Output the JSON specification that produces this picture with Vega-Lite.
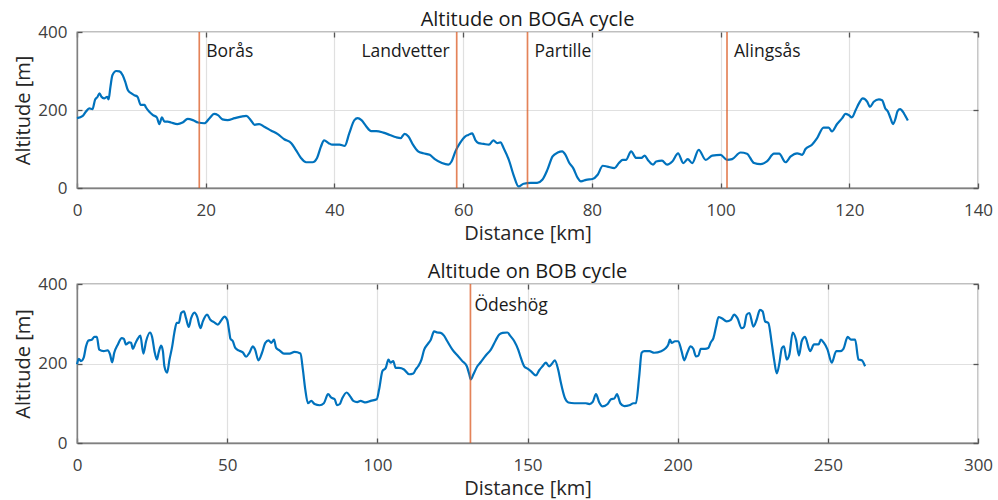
{
  "$schema": "https://vega.github.io/schema/vega-lite/v6.json",
  "background": "white",
  "padding": {"left": 13, "top": 9, "right": 5, "bottom": 2},
  "spacing": 17,
  "datasets": {
    "boga": [
      {"km": 0.0, "alt": 179}, {"km": 0.9, "alt": 185}, {"km": 1.4, "alt": 196}, {"km": 1.9, "alt": 204}, {"km": 2.4, "alt": 202},
      {"km": 2.8, "alt": 226}, {"km": 3.2, "alt": 234}, {"km": 3.5, "alt": 243}, {"km": 3.8, "alt": 234}, {"km": 4.2, "alt": 230},
      {"km": 4.7, "alt": 234}, {"km": 4.9, "alt": 227}, {"km": 5.2, "alt": 260}, {"km": 5.5, "alt": 289}, {"km": 6.1, "alt": 300},
      {"km": 6.6, "alt": 299}, {"km": 7.1, "alt": 289}, {"km": 7.5, "alt": 272}, {"km": 7.9, "alt": 251}, {"km": 8.4, "alt": 243},
      {"km": 8.9, "alt": 238}, {"km": 9.4, "alt": 234}, {"km": 9.9, "alt": 213}, {"km": 10.5, "alt": 213}, {"km": 10.7, "alt": 207},
      {"km": 11.2, "alt": 196}, {"km": 11.8, "alt": 187}, {"km": 12.4, "alt": 181}, {"km": 12.8, "alt": 164}, {"km": 13.2, "alt": 181},
      {"km": 13.6, "alt": 170}, {"km": 14.1, "alt": 170}, {"km": 14.6, "alt": 168}, {"km": 15.6, "alt": 164}, {"km": 16.4, "alt": 168},
      {"km": 17.2, "alt": 177}, {"km": 18.0, "alt": 174}, {"km": 18.8, "alt": 168}, {"km": 19.8, "alt": 166}, {"km": 20.6, "alt": 179},
      {"km": 21.3, "alt": 190}, {"km": 21.9, "alt": 187}, {"km": 22.6, "alt": 176}, {"km": 23.4, "alt": 174}, {"km": 24.5, "alt": 179},
      {"km": 25.5, "alt": 183}, {"km": 26.3, "alt": 185}, {"km": 27.0, "alt": 174}, {"km": 27.6, "alt": 162}, {"km": 28.3, "alt": 164},
      {"km": 29.1, "alt": 157}, {"km": 30.2, "alt": 147}, {"km": 31.2, "alt": 138}, {"km": 32.2, "alt": 125}, {"km": 33.3, "alt": 115},
      {"km": 34.0, "alt": 98}, {"km": 34.8, "alt": 77}, {"km": 35.6, "alt": 66}, {"km": 36.6, "alt": 66}, {"km": 37.3, "alt": 77},
      {"km": 37.9, "alt": 106}, {"km": 38.4, "alt": 122}, {"km": 39.1, "alt": 115}, {"km": 39.7, "alt": 111}, {"km": 40.8, "alt": 111},
      {"km": 41.6, "alt": 108}, {"km": 42.3, "alt": 140}, {"km": 43.1, "alt": 174}, {"km": 43.6, "alt": 179}, {"km": 44.2, "alt": 174},
      {"km": 44.9, "alt": 159}, {"km": 45.7, "alt": 146}, {"km": 46.5, "alt": 146}, {"km": 47.6, "alt": 142}, {"km": 48.6, "alt": 136},
      {"km": 49.6, "alt": 130}, {"km": 50.3, "alt": 128}, {"km": 50.9, "alt": 139}, {"km": 51.5, "alt": 132}, {"km": 52.2, "alt": 111},
      {"km": 53.0, "alt": 94}, {"km": 53.8, "alt": 89}, {"km": 54.8, "alt": 85}, {"km": 55.6, "alt": 74}, {"km": 56.7, "alt": 64},
      {"km": 57.7, "alt": 60}, {"km": 58.2, "alt": 68}, {"km": 58.8, "alt": 94}, {"km": 59.5, "alt": 115}, {"km": 60.3, "alt": 132},
      {"km": 60.8, "alt": 136}, {"km": 61.4, "alt": 140}, {"km": 61.9, "alt": 123}, {"km": 62.4, "alt": 115}, {"km": 63.2, "alt": 113},
      {"km": 64.0, "alt": 111}, {"km": 64.7, "alt": 122}, {"km": 65.3, "alt": 115}, {"km": 65.8, "alt": 117}, {"km": 66.3, "alt": 102},
      {"km": 67.1, "alt": 72}, {"km": 67.9, "alt": 30}, {"km": 68.6, "alt": 4}, {"km": 69.4, "alt": 11}, {"km": 70.5, "alt": 13},
      {"km": 71.5, "alt": 13}, {"km": 72.3, "alt": 21}, {"km": 73.1, "alt": 47}, {"km": 73.9, "alt": 81}, {"km": 74.7, "alt": 91},
      {"km": 75.4, "alt": 94}, {"km": 75.9, "alt": 85}, {"km": 76.5, "alt": 64}, {"km": 77.1, "alt": 51}, {"km": 77.8, "alt": 26},
      {"km": 78.3, "alt": 17}, {"km": 79.1, "alt": 21}, {"km": 80.1, "alt": 23}, {"km": 80.9, "alt": 34}, {"km": 81.7, "alt": 57},
      {"km": 82.4, "alt": 55}, {"km": 83.5, "alt": 51}, {"km": 84.2, "alt": 64}, {"km": 84.8, "alt": 72}, {"km": 85.3, "alt": 72},
      {"km": 86.1, "alt": 94}, {"km": 86.9, "alt": 77}, {"km": 87.7, "alt": 77}, {"km": 88.2, "alt": 83}, {"km": 88.7, "alt": 72},
      {"km": 89.5, "alt": 60}, {"km": 90.0, "alt": 68}, {"km": 90.9, "alt": 70}, {"km": 91.7, "alt": 60}, {"km": 92.5, "alt": 68},
      {"km": 93.4, "alt": 89}, {"km": 94.2, "alt": 64}, {"km": 94.9, "alt": 74}, {"km": 95.6, "alt": 64}, {"km": 96.6, "alt": 98},
      {"km": 97.7, "alt": 72}, {"km": 98.7, "alt": 83}, {"km": 100.0, "alt": 85}, {"km": 101.0, "alt": 72}, {"km": 101.8, "alt": 74},
      {"km": 103.1, "alt": 91}, {"km": 104.1, "alt": 88}, {"km": 105.2, "alt": 64}, {"km": 106.2, "alt": 61}, {"km": 107.2, "alt": 68},
      {"km": 108.3, "alt": 88}, {"km": 109.1, "alt": 88}, {"km": 110.1, "alt": 66}, {"km": 110.9, "alt": 81}, {"km": 111.9, "alt": 89},
      {"km": 112.7, "alt": 85}, {"km": 113.2, "alt": 100}, {"km": 114.2, "alt": 111}, {"km": 115.0, "alt": 128}, {"km": 116.0, "alt": 155},
      {"km": 116.8, "alt": 155}, {"km": 117.3, "alt": 145}, {"km": 118.1, "alt": 164}, {"km": 118.9, "alt": 179}, {"km": 119.4, "alt": 190},
      {"km": 119.9, "alt": 187}, {"km": 120.4, "alt": 181}, {"km": 121.0, "alt": 200}, {"km": 121.5, "alt": 217}, {"km": 122.1, "alt": 230},
      {"km": 122.8, "alt": 221}, {"km": 123.2, "alt": 208}, {"km": 123.8, "alt": 221}, {"km": 124.6, "alt": 227}, {"km": 125.1, "alt": 225},
      {"km": 125.6, "alt": 204}, {"km": 126.0, "alt": 196}, {"km": 126.4, "alt": 179}, {"km": 126.8, "alt": 164}, {"km": 127.2, "alt": 179},
      {"km": 127.5, "alt": 197}, {"km": 127.9, "alt": 202}, {"km": 128.5, "alt": 191}, {"km": 129.1, "alt": 173}
    ],
    "bob": [
      {"km": 0.0, "alt": 198}, {"km": 0.6, "alt": 212}, {"km": 1.3, "alt": 206}, {"km": 2.2, "alt": 214}, {"km": 3.0, "alt": 243},
      {"km": 3.8, "alt": 258}, {"km": 4.9, "alt": 260}, {"km": 5.8, "alt": 267}, {"km": 6.6, "alt": 267}, {"km": 7.4, "alt": 235},
      {"km": 8.9, "alt": 231}, {"km": 10.2, "alt": 233}, {"km": 11.0, "alt": 223}, {"km": 11.7, "alt": 203}, {"km": 12.4, "alt": 227},
      {"km": 13.6, "alt": 248}, {"km": 14.9, "alt": 264}, {"km": 15.6, "alt": 262}, {"km": 16.3, "alt": 248}, {"km": 17.4, "alt": 253},
      {"km": 18.0, "alt": 252}, {"km": 18.6, "alt": 237}, {"km": 19.4, "alt": 250}, {"km": 20.2, "alt": 262}, {"km": 21.1, "alt": 270},
      {"km": 22.1, "alt": 225}, {"km": 23.0, "alt": 256}, {"km": 24.3, "alt": 278}, {"km": 25.0, "alt": 267}, {"km": 25.8, "alt": 231},
      {"km": 26.6, "alt": 210}, {"km": 27.2, "alt": 228}, {"km": 28.0, "alt": 245}, {"km": 28.6, "alt": 231}, {"km": 29.1, "alt": 193},
      {"km": 30.0, "alt": 177}, {"km": 30.8, "alt": 210}, {"km": 31.7, "alt": 243}, {"km": 32.4, "alt": 277}, {"km": 33.2, "alt": 302},
      {"km": 33.9, "alt": 302}, {"km": 34.7, "alt": 327}, {"km": 35.6, "alt": 331}, {"km": 36.3, "alt": 314}, {"km": 37.2, "alt": 292},
      {"km": 38.0, "alt": 314}, {"km": 39.1, "alt": 328}, {"km": 40.0, "alt": 318}, {"km": 41.1, "alt": 289}, {"km": 41.9, "alt": 306},
      {"km": 43.3, "alt": 323}, {"km": 44.4, "alt": 310}, {"km": 45.8, "alt": 303}, {"km": 46.9, "alt": 298}, {"km": 48.0, "alt": 308},
      {"km": 49.1, "alt": 318}, {"km": 50.0, "alt": 310}, {"km": 50.6, "alt": 285}, {"km": 51.1, "alt": 262}, {"km": 51.9, "alt": 256},
      {"km": 52.7, "alt": 239}, {"km": 53.8, "alt": 233}, {"km": 55.2, "alt": 228}, {"km": 56.3, "alt": 217}, {"km": 57.4, "alt": 227},
      {"km": 58.6, "alt": 243}, {"km": 59.3, "alt": 235}, {"km": 60.4, "alt": 208}, {"km": 61.6, "alt": 227}, {"km": 62.7, "alt": 252},
      {"km": 63.8, "alt": 258}, {"km": 64.7, "alt": 252}, {"km": 65.6, "alt": 260}, {"km": 66.3, "alt": 239}, {"km": 67.4, "alt": 233},
      {"km": 68.9, "alt": 225}, {"km": 70.8, "alt": 225}, {"km": 72.4, "alt": 229}, {"km": 74.4, "alt": 225}, {"km": 75.2, "alt": 185},
      {"km": 76.0, "alt": 135}, {"km": 76.9, "alt": 100}, {"km": 78.0, "alt": 106}, {"km": 79.1, "alt": 98}, {"km": 80.8, "alt": 95},
      {"km": 82.2, "alt": 100}, {"km": 83.6, "alt": 123}, {"km": 84.7, "alt": 114}, {"km": 85.8, "alt": 110}, {"km": 86.6, "alt": 95},
      {"km": 87.5, "alt": 98}, {"km": 88.3, "alt": 112}, {"km": 89.8, "alt": 127}, {"km": 90.9, "alt": 118}, {"km": 92.0, "alt": 106},
      {"km": 93.3, "alt": 103}, {"km": 94.4, "alt": 106}, {"km": 96.1, "alt": 102}, {"km": 97.8, "alt": 106}, {"km": 99.8, "alt": 110},
      {"km": 100.6, "alt": 135}, {"km": 101.7, "alt": 181}, {"km": 102.8, "alt": 189}, {"km": 103.7, "alt": 210}, {"km": 104.4, "alt": 202},
      {"km": 105.3, "alt": 206}, {"km": 106.1, "alt": 189}, {"km": 107.2, "alt": 189}, {"km": 108.9, "alt": 185}, {"km": 110.6, "alt": 173},
      {"km": 112.0, "alt": 175}, {"km": 112.8, "alt": 185}, {"km": 113.6, "alt": 193}, {"km": 114.7, "alt": 210}, {"km": 115.6, "alt": 235},
      {"km": 116.7, "alt": 248}, {"km": 117.8, "alt": 260}, {"km": 118.9, "alt": 281}, {"km": 120.0, "alt": 278}, {"km": 121.1, "alt": 277},
      {"km": 122.2, "alt": 270}, {"km": 123.3, "alt": 256}, {"km": 125.0, "alt": 235}, {"km": 126.7, "alt": 220}, {"km": 128.3, "alt": 206},
      {"km": 129.8, "alt": 193}, {"km": 130.6, "alt": 173}, {"km": 131.1, "alt": 160}, {"km": 132.0, "alt": 173}, {"km": 133.3, "alt": 193},
      {"km": 134.4, "alt": 203}, {"km": 136.1, "alt": 220}, {"km": 137.8, "alt": 235}, {"km": 139.4, "alt": 258}, {"km": 140.6, "alt": 273},
      {"km": 141.7, "alt": 277}, {"km": 143.3, "alt": 278}, {"km": 144.2, "alt": 270}, {"km": 145.6, "alt": 256}, {"km": 146.9, "alt": 235},
      {"km": 147.8, "alt": 214}, {"km": 148.9, "alt": 193}, {"km": 150.0, "alt": 187}, {"km": 151.1, "alt": 181}, {"km": 152.8, "alt": 170},
      {"km": 153.9, "alt": 183}, {"km": 155.0, "alt": 193}, {"km": 156.1, "alt": 202}, {"km": 157.2, "alt": 193}, {"km": 158.0, "alt": 198},
      {"km": 159.1, "alt": 208}, {"km": 160.2, "alt": 185}, {"km": 161.1, "alt": 152}, {"km": 162.4, "alt": 114}, {"km": 163.6, "alt": 102},
      {"km": 165.6, "alt": 100}, {"km": 167.8, "alt": 100}, {"km": 169.4, "alt": 100}, {"km": 170.6, "alt": 98}, {"km": 171.7, "alt": 103},
      {"km": 172.8, "alt": 123}, {"km": 173.9, "alt": 102}, {"km": 175.0, "alt": 92}, {"km": 176.7, "alt": 98}, {"km": 177.8, "alt": 110},
      {"km": 178.9, "alt": 112}, {"km": 179.8, "alt": 123}, {"km": 180.9, "alt": 100}, {"km": 182.2, "alt": 93}, {"km": 183.9, "alt": 95},
      {"km": 185.3, "alt": 100}, {"km": 186.1, "alt": 100}, {"km": 187.2, "alt": 168}, {"km": 188.0, "alt": 227}, {"km": 188.9, "alt": 231},
      {"km": 190.6, "alt": 231}, {"km": 192.2, "alt": 227}, {"km": 194.5, "alt": 231}, {"km": 195.8, "alt": 237}, {"km": 196.9, "alt": 248},
      {"km": 197.4, "alt": 260}, {"km": 198.0, "alt": 252}, {"km": 199.1, "alt": 256}, {"km": 200.2, "alt": 256}, {"km": 201.3, "alt": 231},
      {"km": 202.2, "alt": 208}, {"km": 203.2, "alt": 227}, {"km": 204.3, "alt": 243}, {"km": 205.2, "alt": 237}, {"km": 206.1, "alt": 218},
      {"km": 206.9, "alt": 220}, {"km": 207.7, "alt": 237}, {"km": 209.1, "alt": 237}, {"km": 210.2, "alt": 239}, {"km": 211.0, "alt": 253},
      {"km": 211.9, "alt": 264}, {"km": 212.8, "alt": 293}, {"km": 213.6, "alt": 317}, {"km": 214.7, "alt": 314}, {"km": 216.3, "alt": 306},
      {"km": 217.7, "alt": 310}, {"km": 218.8, "alt": 323}, {"km": 219.9, "alt": 314}, {"km": 221.3, "alt": 289}, {"km": 222.1, "alt": 292},
      {"km": 223.0, "alt": 323}, {"km": 223.9, "alt": 327}, {"km": 225.2, "alt": 293}, {"km": 226.3, "alt": 310}, {"km": 227.4, "alt": 335},
      {"km": 228.3, "alt": 331}, {"km": 229.1, "alt": 306}, {"km": 230.2, "alt": 302}, {"km": 231.3, "alt": 252}, {"km": 232.1, "alt": 210},
      {"km": 233.0, "alt": 175}, {"km": 233.9, "alt": 202}, {"km": 234.7, "alt": 239}, {"km": 235.4, "alt": 243}, {"km": 236.3, "alt": 210},
      {"km": 237.2, "alt": 223}, {"km": 238.3, "alt": 278}, {"km": 239.4, "alt": 260}, {"km": 240.4, "alt": 220}, {"km": 241.3, "alt": 256},
      {"km": 242.4, "alt": 267}, {"km": 244.1, "alt": 231}, {"km": 245.4, "alt": 248}, {"km": 246.9, "alt": 248}, {"km": 247.7, "alt": 260},
      {"km": 248.6, "alt": 253}, {"km": 249.9, "alt": 235}, {"km": 251.3, "alt": 202}, {"km": 252.8, "alt": 231}, {"km": 254.1, "alt": 231},
      {"km": 255.2, "alt": 237}, {"km": 256.6, "alt": 267}, {"km": 257.7, "alt": 260}, {"km": 259.1, "alt": 260}, {"km": 260.2, "alt": 210},
      {"km": 261.3, "alt": 208}, {"km": 262.4, "alt": 193}
    ],
    "boga_towns": [
      {"km": 19, "town": "Borås", "side": "right"},
      {"km": 59, "town": "Landvetter", "side": "left"},
      {"km": 70, "town": "Partille", "side": "right"},
      {"km": 101, "town": "Alingsås", "side": "right"}
    ],
    "bob_towns": [
      {"km": 131, "town": "Ödeshög", "side": "right"}
    ]
  },
  "vconcat": [
    {
      "width": 901,
      "height": 156,
      "title": {"text": "Altitude on BOGA cycle"},
      "resolve": {"axis": {"x": "independent", "y": "independent"}},
      "layer": [
        {
          "data": {"name": "boga"},
          "mark": {"type": "line", "color": "#0072BD", "strokeWidth": 2.2, "interpolate": "monotone"},
          "encoding": {
            "x": {"field": "km", "type": "quantitative", "scale": {"domain": [0, 140], "nice": false},
                  "axis": {"values": [0, 20, 40, 60, 80, 100, 120, 140], "title": "Distance [km]", "orient": "bottom"}},
            "y": {"field": "alt", "type": "quantitative", "scale": {"domain": [0, 400], "nice": false},
                  "axis": {"values": [0, 200, 400], "title": "Altitude [m]", "orient": "left"}}
          }
        },
        {
          "data": {"name": "boga_towns"},
          "mark": {"type": "rule", "color": "#D95319", "opacity": 0.72, "strokeWidth": 1.7},
          "encoding": {
            "x": {"field": "km", "type": "quantitative",
                  "axis": {"orient": "top", "values": [0, 20, 40, 60, 80, 100, 120, 140], "labels": false, "title": null, "grid": false, "domain": false}}
          }
        },
        {
          "data": {"name": "boga_towns"},
          "transform": [{"filter": "datum.side === 'right'"}],
          "mark": {"type": "text", "align": "left", "baseline": "middle", "dx": 7, "fontSize": 17.5, "color": "#1a1a1a"},
          "encoding": {
            "x": {"field": "km", "type": "quantitative", "axis": null},
            "y": {"datum": 350, "type": "quantitative",
                  "axis": {"orient": "right", "values": [0, 200, 400], "labels": false, "title": null, "grid": false, "domain": false}},
            "text": {"field": "town"}
          }
        },
        {
          "data": {"name": "boga_towns"},
          "transform": [{"filter": "datum.side === 'left'"}],
          "mark": {"type": "text", "align": "right", "baseline": "middle", "dx": -7, "fontSize": 17.5, "color": "#1a1a1a"},
          "encoding": {
            "x": {"field": "km", "type": "quantitative", "axis": null},
            "y": {"datum": 350, "type": "quantitative", "axis": null},
            "text": {"field": "town"}
          }
        }
      ]
    },
    {
      "width": 901,
      "height": 159,
      "title": {"text": "Altitude on BOB cycle"},
      "resolve": {"axis": {"x": "independent", "y": "independent"}},
      "layer": [
        {
          "data": {"name": "bob"},
          "mark": {"type": "line", "color": "#0072BD", "strokeWidth": 2.2, "interpolate": "monotone"},
          "encoding": {
            "x": {"field": "km", "type": "quantitative", "scale": {"domain": [0, 300], "nice": false},
                  "axis": {"values": [0, 50, 100, 150, 200, 250, 300], "title": "Distance [km]", "orient": "bottom"}},
            "y": {"field": "alt", "type": "quantitative", "scale": {"domain": [0, 400], "nice": false},
                  "axis": {"values": [0, 200, 400], "title": "Altitude [m]", "orient": "left"}}
          }
        },
        {
          "data": {"name": "bob_towns"},
          "mark": {"type": "rule", "color": "#D95319", "opacity": 0.72, "strokeWidth": 1.7},
          "encoding": {
            "x": {"field": "km", "type": "quantitative",
                  "axis": {"orient": "top", "values": [0, 50, 100, 150, 200, 250, 300], "labels": false, "title": null, "grid": false, "domain": false}}
          }
        },
        {
          "data": {"name": "bob_towns"},
          "mark": {"type": "text", "align": "left", "baseline": "middle", "dx": 4, "fontSize": 17.5, "color": "#1a1a1a"},
          "encoding": {
            "x": {"field": "km", "type": "quantitative", "axis": null},
            "y": {"datum": 345, "type": "quantitative",
                  "axis": {"orient": "right", "values": [0, 200, 400], "labels": false, "title": null, "grid": false, "domain": false}},
            "text": {"field": "town"}
          }
        }
      ]
    }
  ],
  "config": {
    "font": "Open Sans",
    "view": {"stroke": "#808080", "strokeWidth": 1.3},
    "axis": {
      "labelFont": "Open Sans",
      "labelFontSize": 17,
      "labelColor": "#404040",
      "titleFont": "Open Sans",
      "titleFontSize": 20,
      "titleFontWeight": "normal",
      "titleColor": "#262626",
      "domainColor": "#808080",
      "domainWidth": 1.3,
      "tickColor": "#555555",
      "tickSize": -5,
      "tickWidth": 1.3,
      "gridColor": "#e0e0e0",
      "gridWidth": 1.2,
      "grid": true,
      "labelFlush": false
    },
    "axisX": {"labelPadding": 19, "titlePadding": 5},
    "axisY": {"labelPadding": 15, "titlePadding": 4},
    "title": {"font": "Open Sans", "fontSize": 20, "fontWeight": "normal", "color": "#1a1a1a", "offset": -7, "anchor": "middle"}
  }
}
